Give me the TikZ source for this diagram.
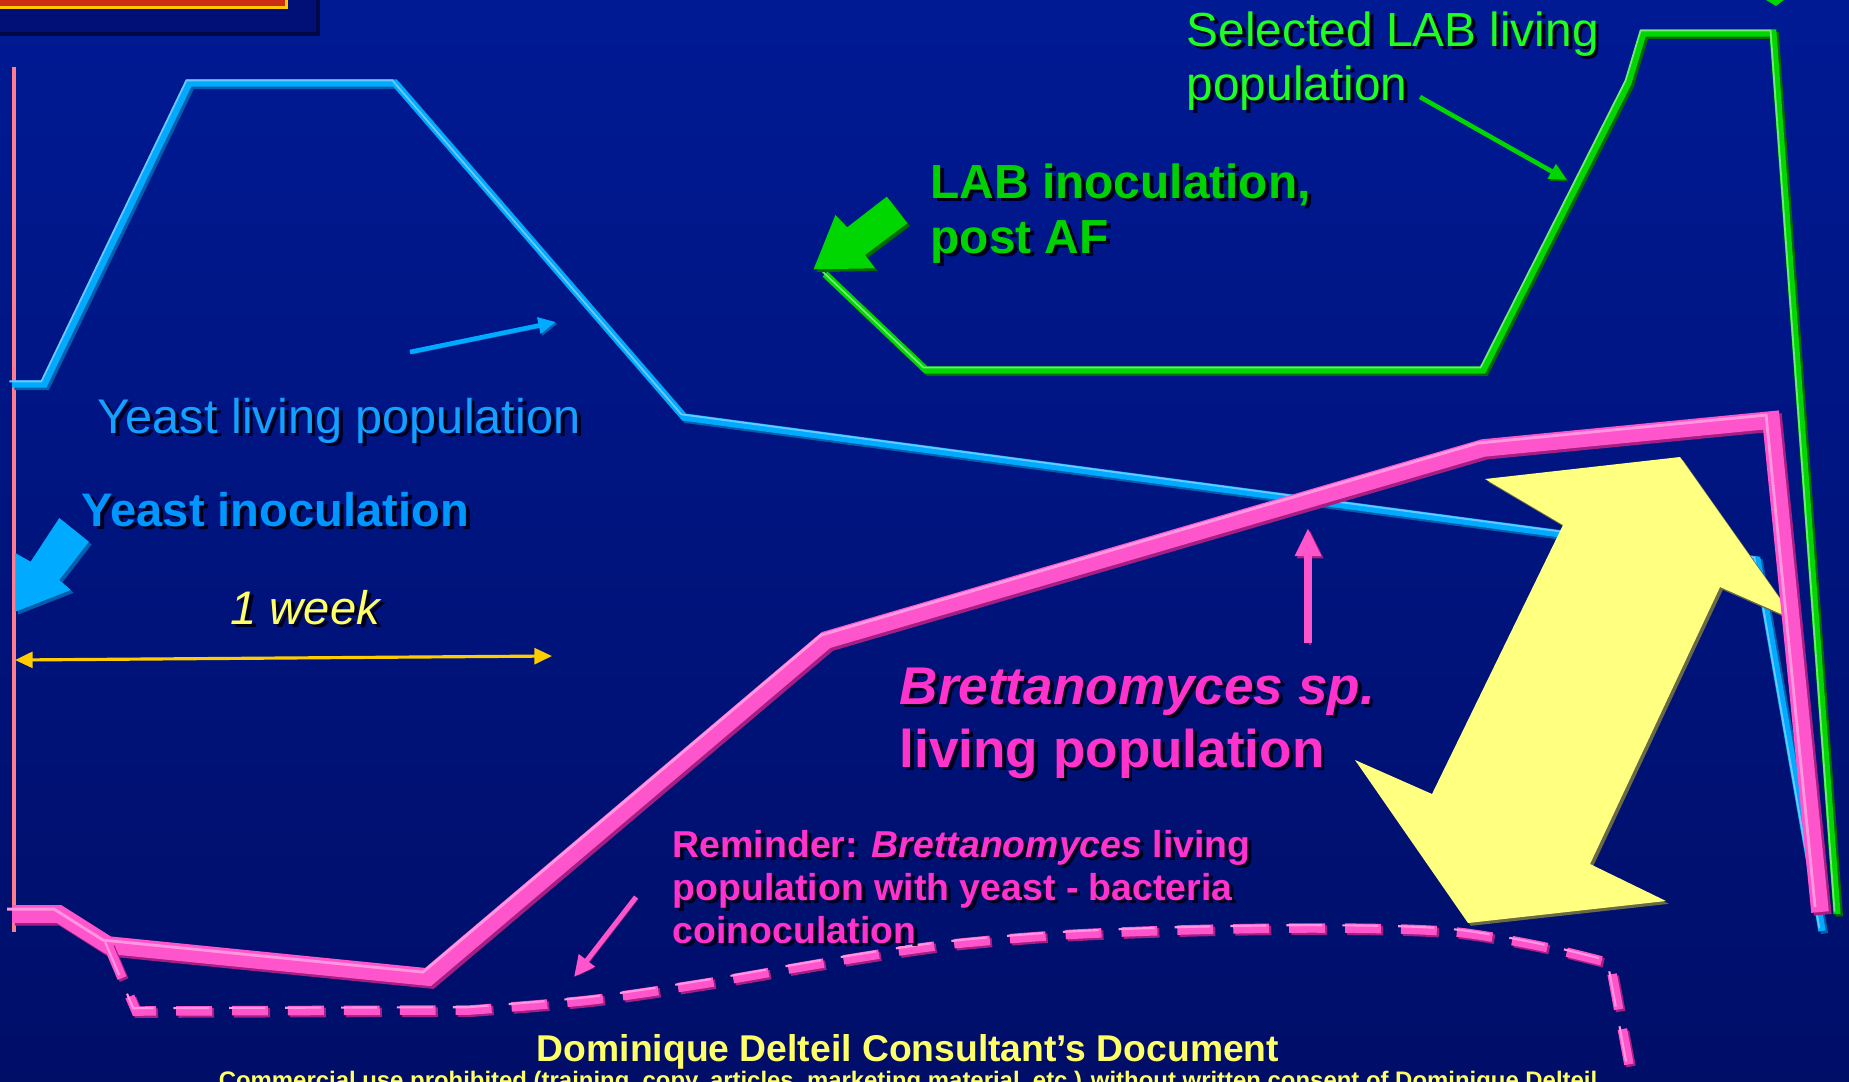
\documentclass[tikz,border=0pt]{standalone}
\usepackage{fontspec}
\setmainfont{Liberation Sans}
\usetikzlibrary{arrows.meta}
\definecolor{bgtop}{RGB}{0,26,148}
\definecolor{bgbot}{RGB}{0,14,104}
\definecolor{boxc}{RGB}{0,16,118}
\definecolor{boxedge}{RGB}{0,8,70}
\definecolor{barred}{RGB}{205,45,20}
\definecolor{barrim}{RGB}{255,200,0}
\definecolor{salmon}{RGB}{255,125,140}
\definecolor{yblue}{RGB}{0,170,255}
\definecolor{ybluedk}{RGB}{0,95,175}
\definecolor{ybluelt}{RGB}{110,200,255}
\definecolor{ytext}{RGB}{20,160,255}
\definecolor{yinoc}{RGB}{0,150,255}
\definecolor{labg}{RGB}{0,215,0}
\definecolor{labgdk}{RGB}{0,105,0}
\definecolor{labglt}{RGB}{120,230,120}
\definecolor{labtext}{RGB}{30,255,30}
\definecolor{labbold}{RGB}{0,210,0}
\definecolor{brett}{RGB}{255,85,204}
\definecolor{brettdk}{RGB}{165,30,130}
\definecolor{brettlt}{RGB}{255,150,225}
\definecolor{bretttext}{RGB}{255,51,204}
\definecolor{yel}{RGB}{255,255,128}
\definecolor{yeldk}{RGB}{105,105,70}
\definecolor{goldc}{RGB}{255,204,0}
\definecolor{txtyel}{RGB}{255,255,102}
\definecolor{txtshadow}{RGB}{0,0,30}
\newcommand{\shd}[1]{\makebox[0pt][l]{\kern1.1pt\raisebox{-1.1pt}{\textcolor{txtshadow}{#1}}}#1}
\tikzset{
  lbl/.style={inner sep=0pt, anchor=base west},
  ctr/.style={inner sep=0pt, anchor=base},
  yeastline/.style={draw=yblue, line width=2.1pt, line join=miter,
    preaction={draw=ybluedk, line width=2.1pt, transform canvas={shift={(0.7pt,-0.7pt)}}},
    postaction={draw=ybluelt, line width=0.5pt, transform canvas={shift={(-0.75pt,0.75pt)}}}},
  labline/.style={draw=labg, line width=2pt, line join=miter,
    preaction={draw=labgdk, line width=2pt, transform canvas={shift={(0.7pt,-0.7pt)}}},
    postaction={draw=labglt, line width=0.5pt, transform canvas={shift={(-0.7pt,0.7pt)}}}},
  brettline/.style={draw=brett, line width=5pt, line join=miter,
    preaction={draw=brettdk, line width=5pt, transform canvas={shift={(0.8pt,-0.8pt)}}},
    postaction={draw=brettlt, line width=0.8pt, transform canvas={shift={(-1.4pt,1.4pt)}}}},
  brettdash/.style={draw=brett, line width=2.7pt, dash pattern={on 10.2pt off 5.7pt},
    preaction={draw=brettdk, line width=2.7pt, dash pattern={on 10.2pt off 5.7pt}, transform canvas={shift={(0.6pt,-0.6pt)}}},
    postaction={draw=brettlt, line width=0.6pt, dash pattern={on 10.2pt off 5.7pt}, transform canvas={shift={(-0.8pt,0.8pt)}}}},
  blockshadow/.style={preaction={fill=#1, transform canvas={shift={(0.8pt,-0.8pt)}}}},
}
\begin{document}
\begin{tikzpicture}[x=0.01cm,y=-0.01cm]
\useasboundingbox (0,0) rectangle (1849,1081);
\shade[top color=bgtop,bottom color=bgbot] (0,0) rectangle (1849,1081);
% top-left box
\fill[boxc] (0,0) rectangle (318,34);
\draw[boxedge, line width=1pt] (0,34) -- (318,34) -- (318,0);
\fill[barred] (0,0) rectangle (286,7);
\draw[barrim, line width=0.7pt] (0,7.5) -- (286.5,7.5) -- (286.5,0);
% tiny green mark at top
\fill[labg] (1766,0) -- (1784,0) -- (1776,6) -- cycle;
% salmon axis
\coordinate (axtop) at (14,67);
\coordinate (axbot) at (14,932);
\draw[salmon, line width=1.4pt] (axtop) -- (axbot);
% yeast curve
\coordinate (y1) at (12,384);
\coordinate (y2) at (44,384);
\coordinate (y3) at (189,83);
\coordinate (y4) at (395,83);
\coordinate (y5) at (684,417);
\coordinate (y6) at (1757,560);
\coordinate (y7) at (1822,931);
\draw[yeastline] (y1) -- (y2) -- (y3) -- (y4) -- (y5) -- (y6) -- (y7);
% LAB curve
\coordinate (g1) at (825,274);
\coordinate (g2) at (926,370);
\coordinate (g3) at (1483,370);
\coordinate (g4) at (1628,83);
\coordinate (g5) at (1643,33);
\coordinate (g6) at (1773,33);
\coordinate (g7) at (1837,914);
\draw[labline] (g1) -- (g2) -- (g3) -- (g4) -- (g5) -- (g6) -- (g7);
% yellow double arrow
\fill[yel, blockshadow=yeldk] (1485,479) -- (1680,457) -- (1795,620) -- (1720,587)
  -- (1590,864) -- (1666,901) -- (1468,923) -- (1355,760) -- (1432,794) -- (1563,525) -- cycle;
% Brettanomyces curve
\coordinate (b1) at (12,914);
\coordinate (b2) at (59,914);
\coordinate (b3) at (108,945);
\coordinate (b4) at (428,977);
\coordinate (b5) at (826,640);
\coordinate (b6) at (1483,448);
\coordinate (b7) at (1771,420);
\coordinate (b8) at (1820,912);
\draw[brettline] (b1) -- (b2) -- (b3) -- (b4) -- (b5) -- (b6) -- (b7) -- (b8);
% coinoculation dashed curve
\draw[brettdash] (b3) -- (136,1011) -- plot[smooth, tension=0.5] coordinates {(470,1010) (590,1000) (707,983) (830,962) (943,945) (1060,935) (1180,930) (1300,928) (1400,929) (1465,933) (1540,946) (1610,963)} -- (1632,1081);
% yeast inoculation block arrow
\fill[yblue, blockshadow=ybluedk] (15.3,611.7) -- (15.3,553) -- (30.6,561.7) -- (59.3,518)
  -- (88.8,541.7) -- (59.3,580) -- (70.8,590) -- cycle;
% LAB inoculation block arrow
\fill[labg, blockshadow=labgdk] (813.6,269.3) -- (835.4,215) -- (847.2,227.3) -- (886.8,196.7)
  -- (907.3,223.3) -- (865,255) -- (874.9,268.3) -- cycle;
% 1 week arrow
\coordinate (w1) at (15,660);
\coordinate (w2) at (552,656);
\draw[goldc, line width=0.9pt, {Triangle[length=5pt,width=4.5pt]}-{Triangle[length=5pt,width=4.5pt]}] (w1) -- (w2);
% pointer arrows
\coordinate (yp1) at (410,352);
\coordinate (yp2) at (556,322);
\draw[yblue, line width=1.3pt, -{Triangle[length=5pt,width=4.5pt]},
  preaction={draw=ybluedk, transform canvas={shift={(0.5pt,-0.5pt)}}}] (yp1) -- (yp2);
\coordinate (gp1) at (1420,97);
\coordinate (gp2) at (1567,180);
\draw[labg, line width=1.3pt, -{Triangle[length=5pt,width=4.5pt]},
  preaction={draw=labgdk, transform canvas={shift={(0.5pt,-0.5pt)}}}] (gp1) -- (gp2);
\coordinate (pr1) at (636,897);
\coordinate (pr2) at (574,977);
\draw[brett, line width=1.4pt, -{Triangle[length=6pt,width=5.5pt]},
  preaction={draw=brettdk, transform canvas={shift={(0.5pt,-0.5pt)}}}] (pr1) -- (pr2);
\coordinate (pu1) at (1308,643);
\coordinate (pu2) at (1308,528);
\draw[brett, line width=2.5pt, -{Triangle[length=8pt,width=7pt]},
  preaction={draw=brettdk, transform canvas={shift={(0.6pt,-0.6pt)}}}] (pu1) -- (pu2);
% texts
\node[lbl, text=ytext, font=\fontsize{13.85pt}{16pt}\selectfont] (ylp) at (97,433) {\shd{Yeast living population}};
\node[lbl, text=yinoc, font=\fontsize{13.4pt}{16pt}\selectfont\bfseries] (yin) at (81,526) {\shd{Yeast inoculation}};
\node[lbl, text=txtyel, font=\fontsize{13.4pt}{16pt}\selectfont\itshape] (wk) at (230,624) {\shd{1 week}};
\node[lbl, text=labbold, font=\fontsize{13.6pt}{16pt}\selectfont\bfseries] (lab1) at (930,198) {\shd{LAB inoculation,}};
\node[lbl, text=labbold, font=\fontsize{13.6pt}{16pt}\selectfont\bfseries] (lab2) at (930,253) {\shd{post AF}};
\node[lbl, text=labtext, font=\fontsize{13.6pt}{16pt}\selectfont] (sel1) at (1186,46) {\shd{Selected LAB living}};
\node[lbl, text=labtext, font=\fontsize{13.6pt}{16pt}\selectfont] (sel2) at (1186,100) {\shd{population}};
\node[lbl, text=bretttext, font=\fontsize{15.1pt}{18pt}\selectfont\bfseries\itshape] (br1) at (899,704) {\shd{Brettanomyces sp.}};
\node[lbl, text=bretttext, font=\fontsize{15.1pt}{18pt}\selectfont\bfseries] (br2) at (899,767) {\shd{living population}};
\node[lbl, text=bretttext, font=\fontsize{10.65pt}{13pt}\selectfont\bfseries] (rm1) at (672,857) {\shd{Reminder: \textit{Brettanomyces} living}};
\node[lbl, text=bretttext, font=\fontsize{10.65pt}{13pt}\selectfont\bfseries] (rm2) at (672,900) {\shd{population with yeast - bacteria}};
\node[lbl, text=bretttext, font=\fontsize{10.65pt}{13pt}\selectfont\bfseries] (rm3) at (672,943) {\shd{coinoculation}};
\node[ctr, text=txtyel, font=\fontsize{10.6pt}{13pt}\selectfont\bfseries] (dd) at (908,1061) {Dominique Delteil Consultant’s Document};
\node[ctr, text=txtyel, font=\fontsize{6.8pt}{8pt}\selectfont\bfseries] (cu) at (908,1088) {Commercial use prohibited (training, copy, articles, marketing material, etc.) without written consent of Dominique Delteil};
\end{tikzpicture}
\end{document}
